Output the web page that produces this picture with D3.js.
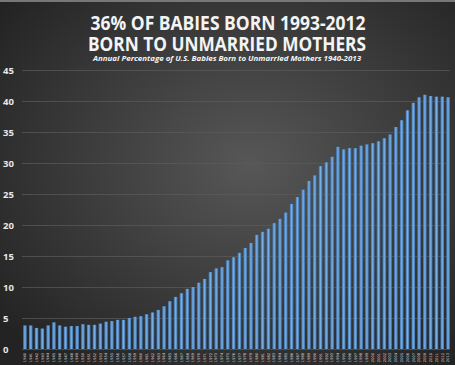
<!DOCTYPE html>
<html><head><meta charset="utf-8">
<script src="https://cdn.jsdelivr.net/npm/d3@7"></script>
<style>html,body{margin:0;padding:0;background:#2a2a2a;}svg{display:block;}</style>
</head><body>
<script>
const years = d3.range(1940, 2014).map(String);
const values = [3.8,3.8,3.4,3.3,3.8,4.3,3.8,3.6,3.7,3.7,
  4.0,3.9,3.9,4.1,4.4,4.5,4.7,4.7,5.0,5.2,
  5.3,5.6,5.9,6.3,6.9,7.7,8.4,9.0,9.7,10.0,
  10.7,11.3,12.4,13.0,13.2,14.3,14.8,15.5,16.3,17.1,
  18.4,18.9,19.4,20.3,21.0,22.0,23.4,24.5,25.7,27.1,
  28.0,29.5,30.1,31.0,32.6,32.2,32.4,32.4,32.8,33.0,
  33.2,33.5,34.0,34.6,35.8,36.9,38.5,39.7,40.6,41.0,
  40.8,40.7,40.7,40.6];
const yTicks = [0,5,10,15,20,25,30,35,40,45];
const titleLines = ["36% OF BABIES BORN 1993-2012","BORN TO UNMARRIED MOTHERS"];
const subtitle = "Annual Percentage of U.S. Babies Born to Unmarried Mothers 1940-2013";

const W = 455, H = 365;
const svg = d3.select("body").append("svg").attr("width", W).attr("height", H);
const defs = svg.append("defs");
const bg = defs.append("radialGradient").attr("id","bg").attr("cx","55%").attr("cy","45%").attr("r","70%");
bg.append("stop").attr("offset","0%").attr("stop-color","#575757");
bg.append("stop").attr("offset","100%").attr("stop-color","#232323");
const bar = defs.append("linearGradient").attr("id","bar").attr("x1","0").attr("x2","1").attr("y1","0").attr("y2","0");
bar.append("stop").attr("offset","0%").attr("stop-color","#3b6fa8");
bar.append("stop").attr("offset","50%").attr("stop-color","#78b0e8");
bar.append("stop").attr("offset","100%").attr("stop-color","#3b6fa8");

svg.append("rect").attr("width",W).attr("height",H).attr("fill","url(#bg)");
svg.append("rect").attr("width",W).attr("height",2).attr("fill","#777");

const x = d3.scaleBand().domain(years).range([22, 451]).paddingInner(0.38).paddingOuter(0.2);
const y = d3.scaleLinear().domain([0,45]).range([349, 70]);

// gridlines
const grid = svg.append("g").call(d3.axisLeft(y).tickValues(yTicks).tickSize(-(450-22)).tickFormat(""))
  .attr("transform","translate(22,0)");
grid.select(".domain").remove();
grid.selectAll("line").attr("stroke","#5c5c5c").attr("stroke-width",0.7);

// y labels
const ya = svg.append("g").call(d3.axisLeft(y).tickValues(yTicks).tickSize(0).tickPadding(0)).attr("transform","translate(3,0)");
ya.select(".domain").remove();
ya.selectAll("text").attr("text-anchor","start").attr("x",0).attr("fill","#e8e8e8")
  .style("font-family","'Open Sans', sans-serif").style("font-size","9.5px").style("font-weight","bold");

// bars
svg.append("g").selectAll("rect").data(values).join("rect")
  .attr("x",(d,i)=>x(years[i])).attr("width",x.bandwidth())
  .attr("y",d=>y(d)).attr("height",d=>y(0)-y(d)).attr("fill","url(#bar)");

// x labels
const xa = svg.append("g").attr("transform","translate(0,351)").call(d3.axisBottom(x).tickSize(0).tickPadding(0));
xa.select(".domain").remove();
xa.selectAll("text").attr("transform","rotate(-90)").attr("text-anchor","end").attr("x",-2).attr("y",0).attr("dy","0.35em")
  .attr("fill","#ddd").style("font-family","'DejaVu Sans', sans-serif").style("font-size","3.6px");

// titles
const t = svg.append("g").attr("font-family","'Open Sans', sans-serif").attr("fill","#f4f4f4").attr("text-anchor","middle");
t.append("text").attr("x",228).attr("y",30).attr("font-size","20px").attr("font-weight","bold")
  .attr("textLength",275).attr("lengthAdjust","spacingAndGlyphs").text(titleLines[0]);
t.append("text").attr("x",227).attr("y",51).attr("font-size","20px").attr("font-weight","bold")
  .attr("textLength",278).attr("lengthAdjust","spacingAndGlyphs").text(titleLines[1]);
t.append("text").attr("x",227).attr("y",61).attr("font-size","7.5px").attr("font-style","italic").attr("font-weight","bold")
  .attr("textLength",268).attr("lengthAdjust","spacingAndGlyphs").text(subtitle);
</script>
</body></html>
